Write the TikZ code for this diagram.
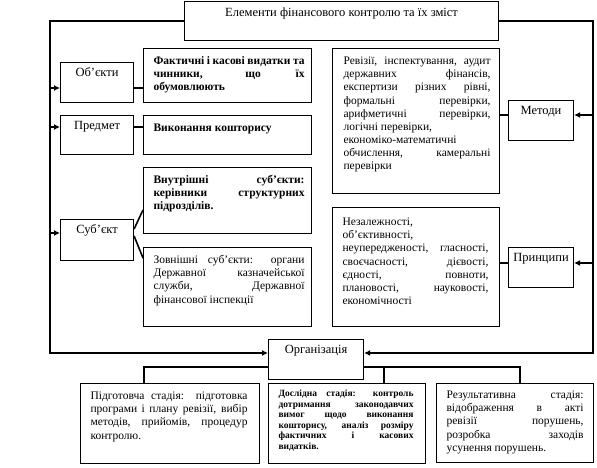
\documentclass[tikz,border=0pt]{standalone}
\usepackage{fontspec}
\setmainfont{Liberation Serif}
\usetikzlibrary{arrows.meta}
\newcommand\bx[4]{\parbox[c][#1pt][t]{#2pt}{\vspace*{#3pt}\fontsize{11.5}{13.1}\selectfont\parindent=0pt\hyphenpenalty=10000\exhyphenpenalty=10000 #4\par}}
\newcommand\lbl{\fontsize{12.5}{14.5}\selectfont\centering\strut}
\begin{document}
\begin{tikzpicture}[x=1pt,y=-1pt,
  box/.style={draw,line width=1.1pt,inner sep=0pt,anchor=north west},
  bus/.style={line width=2.6pt},
  conn/.style={line width=1.6pt},
  arr/.style={-{Latex[length=6pt,width=6pt]}},
]
\useasboundingbox (0,0) rectangle (597,468);
\node[box] (title) at (184,1) {\bx{39}{314}{5}{\lbl Елементи фінансового контролю та їх зміст}};
% left column
\node[box] (obj) at (60,62) {\bx{40}{73}{4}{\lbl Об’єкти}};
\node[box] (fact) at (143,48) {\bx{54}{168}{7}{\leftskip=10pt\rightskip=7pt\strut\bfseries Фактичні і касові видатки та\linebreak чинники, що їх\linebreak обумовлюють}};
\node[box] (subj0) at (60,115) {\bx{39}{73}{4}{\lbl Предмет}};
\node[box] (exec) at (143,115) {\bx{39}{168}{7}{\leftskip=10pt\rightskip=7pt\strut\bfseries Виконання кошторису}};
\node[box] (subj) at (60,219) {\bx{41}{73}{4}{\lbl Суб’єкт}};
\node[box] (inner) at (143,167) {\bx{66}{168}{7}{\leftskip=10pt\rightskip=7pt\strut\bfseries Внутрішні суб’єкти:\linebreak керівники структурних\linebreak підрозділів.}};
\node[box] (outer) at (143,247) {\bx{79}{168}{7}{\leftskip=10pt\rightskip=7pt\strut Зовнішні суб’єкти: органи\linebreak Державної казначейської\linebreak служби, Державної\linebreak фінансової інспекції}};
% right column
\node[box] (rev) at (332,48) {\bx{145}{167}{7}{\leftskip=11pt\rightskip=9pt\strut Ревізії, інспектування, аудит\linebreak державних фінансів,\linebreak експертизи різних рівні,\linebreak формальні перевірки,\linebreak арифметичні перевірки,\linebreak логічні перевірки,\\ економіко-математичні\\ обчислення, камеральні\linebreak перевірки}};
\node[box] (meth) at (508,100) {\bx{40}{65}{4}{\lbl Методи}};
\node[box] (prin) at (332,207) {\bx{119}{167}{9}{\leftskip=10pt\rightskip=11pt\strut Незалежності,\\ об’єктивності,\\ неупередженості, гласності,\linebreak своєчасності, дієвості,\linebreak єдності, повноти,\linebreak плановості, науковості,\linebreak економічності}};
\node[box] (princ) at (508,247) {\bx{40}{65}{4}{\lbl Принципи}};
% organisation
\node[box] (org) at (268,339) {\bx{40}{95}{4}{\lbl Організація}};
\node[box] (prep) at (80,383) {\bx{80}{179}{7}{\leftskip=10pt\rightskip=12pt\strut Підготовча стадія: підготовка\linebreak програми і плану ревізії, вибір\linebreak методів, прийомів, процедур\linebreak контролю.}};
\node[box] (study) at (268,383) {\bx{80}{157}{6}{\fontsize{9.5}{10.5}\selectfont\leftskip=10pt\rightskip=12pt\strut\bfseries Дослідна стадія: контроль\linebreak дотримання законодавчих\linebreak вимог щодо виконання\linebreak кошторису, аналіз розміру\linebreak фактичних і касових\linebreak видатків.}};
\node[box] (res) at (436,383) {\bx{79}{157}{6}{\leftskip=10pt\rightskip=10pt\strut Результативна стадія:\linebreak відображення в акті\linebreak ревізії порушень,\linebreak розробка заходів\linebreak усунення порушень.}};
% coordinates
\coordinate (bl) at (50,353);
\coordinate (br) at (593,353);
\coordinate (yobj) at (0,88);
\coordinate (yexe) at (0,127);
\coordinate (ysub) at (0,233);
\coordinate (ys1) at (0,229);
\coordinate (ys2) at (0,236);
\coordinate (yin) at (0,210);
\coordinate (yout) at (0,258);
\coordinate (ymet) at (0,115);
\coordinate (ypri) at (0,263);
\coordinate (jl) at (144,367);
\coordinate (jm) at (384,367);
\coordinate (jr) at (520,367);
% buses
\draw[bus,arr] (title.west) -| (bl) -- (org.west |- bl);
\draw[bus,arr] (title.east) -| (br) -- (org.east |- br);
% left arrows
\draw[conn,arr] (bl |- yobj) -- (obj.west |- yobj);
\draw[conn,arr] (bl |- yexe) -- (subj0.west |- yexe);
\draw[conn,arr] (bl |- ysub) -- (subj.west |- ysub);
\draw[conn] (obj.east |- yobj) -- (fact.west |- yobj);
\draw[conn] (subj0.east |- yexe) -- (exec.west |- yexe);
\draw[conn] (subj.east |- ys1) -- (inner.west |- yin);
\draw[conn] (subj.east |- ys2) -- (outer.west |- yout);
% right arrows
\draw[conn,arr] (br |- ymet) -- (meth.east |- ymet);
\draw[conn,arr] (br |- ypri) -- (princ.east |- ypri);
\draw[conn] (rev.east |- ymet) -- (meth.west |- ymet);
\draw[conn] (prin.east |- ypri) -- (princ.west |- ypri);
% organisation stages
\draw[conn] (org.west |- jl) -- (jl) -- (jl |- prep.north);
\draw[conn] (org.east |- jr) -- (jr) -- (jr |- res.north);
\draw[conn] (jm) -- (jm |- study.north);
\end{tikzpicture}
\end{document}
